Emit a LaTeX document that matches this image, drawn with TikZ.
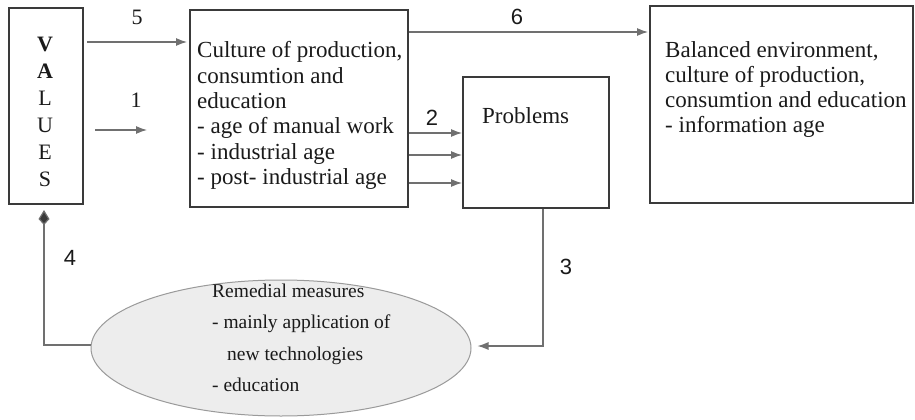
\documentclass[tikz,border=0pt]{standalone}
\usepackage{fontspec}
\setmainfont{Liberation Serif}
\newfontfamily\numfont{Liberation Sans}
\usetikzlibrary{arrows.meta,shapes.geometric}
\newcommand\mystack[1]{\begin{tabular}[t]{@{}l@{}}#1\end{tabular}}
\definecolor{boxline}{HTML}{3A3A3A}
\definecolor{connline}{HTML}{707070}
\definecolor{inktext}{HTML}{1A1A1A}
\definecolor{ellfill}{HTML}{EDEDED}
\definecolor{ellline}{HTML}{9A9A9A}
\tikzset{
  box/.style={draw=boxline, line width=2pt, anchor=north west, inner sep=0pt, fill=white},
  conn/.style={draw=connline, line width=1.2pt, -{Latex[length=11pt,width=8pt]}},
  maintext/.style={anchor=base west, inner sep=0pt, text=inktext, font=\fontsize{23}{25.3}\selectfont},
  elltext/.style={anchor=base west, inner sep=0pt, text=inktext, font=\fontsize{19.5}{31.5}\selectfont},
  numlab/.style={inner sep=0pt, text=inktext, font=\numfont\fontsize{22}{22}\selectfont},
  serlab/.style={inner sep=0pt, text=inktext, font=\fontsize{22}{22}\selectfont},
}
\begin{document}
\begin{tikzpicture}[x=1pt,y=-1pt]
\useasboundingbox (0,0) rectangle (915,420);
\fill[white] (0,0) rectangle (915,420);

% boxes
\node[box, minimum width=74, minimum height=196] (values) at (8,7) {};
\node[box, minimum width=218, minimum height=197] (culture) at (189,9) {};
\node[box, minimum width=146, minimum height=131] (problems) at (462,76) {};
\node[box, minimum width=263, minimum height=197] (balanced) at (649,5) {};
\node[ellipse, draw=ellline, fill=ellfill, line width=1pt, inner sep=0pt,
      minimum width=380, minimum height=136] (remedial) at (281,348) {};

% texts
\node[inner sep=0pt, text=inktext, anchor=base, font=\fontsize{22}{27}\selectfont] (valtext) at (45,52)
  {\begin{tabular}[t]{@{}c@{}}\textbf{V}\\\textbf{A}\\L\\U\\E\\S\end{tabular}};
\node[maintext] (culttext) at (197,58) {\mystack{Culture of production,\\consumtion and\\education\\- age of manual work\\- industrial age\\- post- industrial age}};
\node[maintext] (probtext) at (482,123) {Problems};
\node[maintext] (baltext) at (665,57) {\mystack{Balanced environment,\\culture of production,\\consumtion and education\\- information age}};
\node[elltext] (remtext) at (212,297) {\mystack{Remedial measures\\- mainly application of\\\hspace{15pt}new technologies\\- education}};

% free ends of arrow 1
\coordinate (a1s) at (95,130);
\coordinate (a1e) at (147,130);

% connectors
\draw[conn, shorten <=3pt, shorten >=2pt] (values.east |- 0,42) -- (culture.west |- 0,42);
\draw[conn] (a1s) -- (a1e);
\draw[conn, shorten >=1pt] (culture.east |- 0,32) -- (balanced.west |- 0,32);
\draw[conn] (culture.east |- 0,133) -- (problems.west |- 0,133);
\draw[conn] (culture.east |- 0,155) -- (problems.west |- 0,155);
\draw[conn] (culture.east |- 0,183) -- (problems.west |- 0,183);
\draw[conn] ([xshift=7pt]problems.south) |- ([xshift=6pt,yshift=2pt]remedial.east);
\draw[conn, -{Kite[length=15pt,width=11pt,inset=6pt,fill=boxline]}] ([yshift=3pt]remedial.west) -| ([xshift=-2pt,yshift=-5pt]values.south);

% labels
\node[serlab] (l5) at (137,17) {5};
\node[serlab] (l1) at (136,100) {1};
\node[numlab] (l6) at (517,17) {6};
\node[numlab] (l2) at (432,118) {2};
\node[numlab] (l3) at (566,267) {3};
\node[numlab] (l4) at (70,258) {4};
\end{tikzpicture}
\end{document}
